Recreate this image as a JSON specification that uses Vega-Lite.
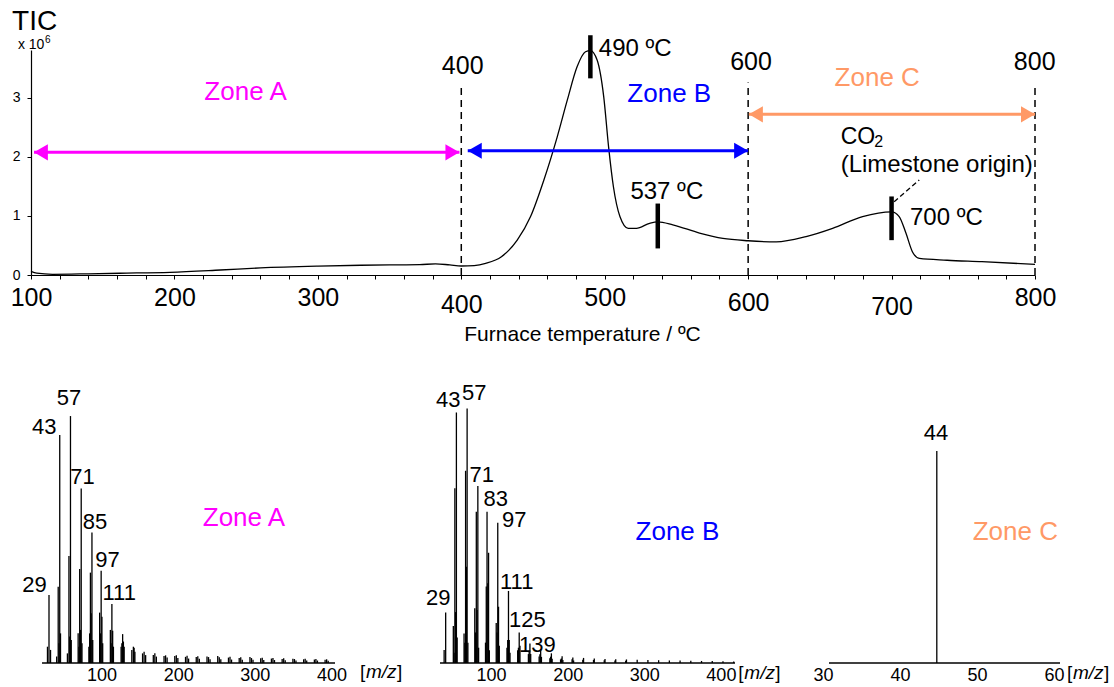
{
  "$schema": "https://vega.github.io/schema/vega-lite/v6.json",
  "padding": {"left": 10, "top": 8, "right": 0, "bottom": 0},
  "background": "white",
  "config": {"view": {"stroke": null}, "font": "Liberation Sans", "axis": {"grid": false, "domainColor": "black", "tickColor": "black", "labelColor": "black", "titleColor": "black"}},
  "datasets": {
    "tic": [
      {"T":100,"I":0.06},{"T":104,"I":0.03},{"T":115,"I":0.012},{"T":140,"I":0.02},{"T":162,"I":0.03},{"T":197,"I":0.046},{"T":232,"I":0.085},{"T":260,"I":0.12},{"T":300,"I":0.15},{"T":330,"I":0.165},{"T":350,"I":0.17},{"T":371,"I":0.175},{"T":382,"I":0.19},{"T":392,"I":0.17},{"T":400,"I":0.152},{"T":409,"I":0.16},{"T":417,"I":0.198},{"T":428,"I":0.31},{"T":439,"I":0.59},{"T":448.3,"I":0.99},{"T":457.6,"I":1.61},{"T":466.9,"I":2.34},{"T":473.9,"I":2.96},{"T":480.8,"I":3.53},{"T":486.6,"I":3.78},{"T":490,"I":3.8},{"T":494.7,"I":3.64},{"T":499.3,"I":3.02},{"T":502.7,"I":2.17},{"T":506.1,"I":1.49},{"T":510.6,"I":0.99},{"T":516.4,"I":0.79},{"T":522.1,"I":0.79},{"T":531.3,"I":0.875},{"T":537,"I":0.9},{"T":547.5,"I":0.85},{"T":566.1,"I":0.71},{"T":582.4,"I":0.62},{"T":600,"I":0.58},{"T":619.6,"I":0.56},{"T":640.4,"I":0.65},{"T":658.9,"I":0.79},{"T":679.8,"I":0.99},{"T":700,"I":1.07},{"T":705.3,"I":0.99},{"T":710,"I":0.71},{"T":714.6,"I":0.39},{"T":719.4,"I":0.28},{"T":738.7,"I":0.25},{"T":763,"I":0.225},{"T":800,"I":0.18}
    ],
    "vlines": [{"T":400,"I":0,"I2":3.2},{"T":600,"I":0,"I2":3.26},{"T":800,"I":0,"I2":3.24}],
    "arrows": [{"zone":"A","T":102.1,"T2":398.7,"I":2.077},{"zone":"B","T":404.5,"T2":600,"I":2.104},{"zone":"C","T":600.5,"T2":800,"I":2.72}],
    "heads": [
      {"zone":"A","dir":"left","T":106.9,"I":2.077},{"zone":"A","dir":"right","T":393.8,"I":2.077},
      {"zone":"B","dir":"left","T":409.4,"I":2.104},{"zone":"B","dir":"right","T":595.1,"I":2.104},
      {"zone":"C","dir":"left","T":605.4,"I":2.72},{"zone":"C","dir":"right","T":795.1,"I":2.72}
    ],
    "markers": [{"T":490,"I":3.33,"I2":4.06},{"T":537,"I":0.45,"I2":1.21},{"T":700,"I":0.59,"I2":1.33}],
    "leader": [{"T":701.8,"T2":719.3,"I":1.24,"I2":1.61}],
    "ann": [
      {"kind":"num","T":401,"I":3.54,"label":"400"},
      {"kind":"num","T":602,"I":3.61,"label":"600"},
      {"kind":"num","T":799.8,"I":3.61,"label":"800"},
      {"kind":"numc","T":543.3,"I":1.41,"label":"537 ºC"},
      {"kind":"left","T":495.9,"I":3.82,"label":"490 ºC"},
      {"kind":"left","T":712.8,"I":0.96,"label":"700 ºC"},
      {"kind":"left","T":664.5,"I":1.86,"label":"(Limestone origin)"},
      {"kind":"co","T":664.5,"I":2.34,"label":"CO"},
      {"kind":"sub","T":688,"I":2.26,"label":"2"},
      {"kind":"tic","T":86.8,"I":4.28,"label":"TIC"},
      {"kind":"x10","T":90.9,"I":3.89,"label":"x 10"},
      {"kind":"sup","T":109.8,"I":3.98,"label":"6"},
      {"kind":"zone","zone":"A","T":249.6,"I":3.1,"label":"Zone A"},
      {"kind":"zone","zone":"B","T":545,"I":3.07,"label":"Zone B"},
      {"kind":"zone","zone":"C","T":690,"I":3.33,"label":"Zone C"}
    ],
    "spec": [
      {"panel":"A","mz":27,"I":6.6},{"panel":"A","mz":29,"I":27.5},{"panel":"A","mz":31,"I":5.3},{"panel":"A","mz":39,"I":2.6},{"panel":"A","mz":41,"I":30.9},{"panel":"A","mz":42,"I":8},{"panel":"A","mz":43,"I":92.3},{"panel":"A","mz":44,"I":12},{"panel":"A","mz":53,"I":3.9},{"panel":"A","mz":55,"I":43.3},{"panel":"A","mz":56,"I":10.7},{"panel":"A","mz":57,"I":100},{"panel":"A","mz":58,"I":9.3},{"panel":"A","mz":67,"I":12},{"panel":"A","mz":68,"I":6.6},{"panel":"A","mz":69,"I":38.1},{"panel":"A","mz":70,"I":13.4},{"panel":"A","mz":71,"I":70.7},{"panel":"A","mz":72,"I":8},{"panel":"A","mz":81,"I":6.6},{"panel":"A","mz":82,"I":12},{"panel":"A","mz":83,"I":36.6},{"panel":"A","mz":84,"I":20.1},{"panel":"A","mz":85,"I":52.8},{"panel":"A","mz":86,"I":9.3},{"panel":"A","mz":95,"I":20.4},{"panel":"A","mz":96,"I":12},{"panel":"A","mz":97,"I":37.4},{"panel":"A","mz":98,"I":18.7},{"panel":"A","mz":99,"I":8},{"panel":"A","mz":109,"I":13.4},{"panel":"A","mz":110,"I":8},{"panel":"A","mz":111,"I":23.9},{"panel":"A","mz":112,"I":13.1},{"panel":"A","mz":113,"I":6.6},{"panel":"A","mz":123,"I":6.6},{"panel":"A","mz":124,"I":8},{"panel":"A","mz":125,"I":11.7},{"panel":"A","mz":126,"I":8.7},{"panel":"A","mz":127,"I":6.6},{"panel":"A","mz":137,"I":5.3},{"panel":"A","mz":139,"I":6.6},{"panel":"A","mz":140,"I":6.2},{"panel":"A","mz":141,"I":4.6},{"panel":"A","mz":151,"I":3.9},{"panel":"A","mz":153,"I":4.6},{"panel":"A","mz":155,"I":3.2},{"panel":"A","mz":165,"I":3.2},{"panel":"A","mz":167,"I":3.9},{"panel":"A","mz":169,"I":2.6},{"panel":"A","mz":179,"I":2.8},{"panel":"A","mz":181,"I":3.1},{"panel":"A","mz":183,"I":2.2},{"panel":"A","mz":193,"I":2.8},{"panel":"A","mz":195,"I":3.1},{"panel":"A","mz":197,"I":2.0},{"panel":"A","mz":207,"I":2.5},{"panel":"A","mz":209,"I":2.9},{"panel":"A","mz":211,"I":1.8},{"panel":"A","mz":221,"I":2.4},{"panel":"A","mz":223,"I":2.7},{"panel":"A","mz":225,"I":1.7},{"panel":"A","mz":235,"I":2.6},{"panel":"A","mz":237,"I":2.4},{"panel":"A","mz":239,"I":1.5},{"panel":"A","mz":249,"I":2.8},{"panel":"A","mz":251,"I":2.3},{"panel":"A","mz":253,"I":1.5},{"panel":"A","mz":263,"I":2.2},{"panel":"A","mz":265,"I":2.5},{"panel":"A","mz":267,"I":1.4},{"panel":"A","mz":277,"I":2.0},{"panel":"A","mz":279,"I":2.3},{"panel":"A","mz":281,"I":1.3},{"panel":"A","mz":291,"I":2.4},{"panel":"A","mz":293,"I":2.0},{"panel":"A","mz":295,"I":1.3},{"panel":"A","mz":305,"I":1.9},{"panel":"A","mz":307,"I":2.1},{"panel":"A","mz":309,"I":1.2},{"panel":"A","mz":319,"I":1.8},{"panel":"A","mz":321,"I":2.0},{"panel":"A","mz":323,"I":1.2},{"panel":"A","mz":333,"I":1.6},{"panel":"A","mz":335,"I":1.9},{"panel":"A","mz":337,"I":1.1},{"panel":"A","mz":347,"I":1.7},{"panel":"A","mz":349,"I":1.6},{"panel":"A","mz":351,"I":1.0},{"panel":"A","mz":361,"I":1.5},{"panel":"A","mz":363,"I":1.7},{"panel":"A","mz":365,"I":1.0},{"panel":"A","mz":375,"I":1.4},{"panel":"A","mz":377,"I":1.6},{"panel":"A","mz":379,"I":1.0},{"panel":"A","mz":389,"I":1.3},{"panel":"A","mz":391,"I":1.5},{"panel":"A","mz":393,"I":0.9},
      {"panel":"B","mz":27,"I":5.1},{"panel":"B","mz":29,"I":19.8},{"panel":"B","mz":39,"I":14.5},{"panel":"B","mz":40,"I":4},{"panel":"B","mz":41,"I":68.6},{"panel":"B","mz":42,"I":20},{"panel":"B","mz":43,"I":98.4},{"panel":"B","mz":44,"I":10},{"panel":"B","mz":53,"I":11.6},{"panel":"B","mz":54,"I":8},{"panel":"B","mz":55,"I":75.5},{"panel":"B","mz":56,"I":37.8},{"panel":"B","mz":57,"I":100},{"panel":"B","mz":58,"I":8},{"panel":"B","mz":67,"I":21.5},{"panel":"B","mz":68,"I":12},{"panel":"B","mz":69,"I":59.4},{"panel":"B","mz":70,"I":20.8},{"panel":"B","mz":71,"I":69.5},{"panel":"B","mz":72,"I":6},{"panel":"B","mz":81,"I":8},{"panel":"B","mz":82,"I":30},{"panel":"B","mz":83,"I":59.4},{"panel":"B","mz":84,"I":31.3},{"panel":"B","mz":85,"I":43.3},{"panel":"B","mz":86,"I":5},{"panel":"B","mz":95,"I":15.7},{"panel":"B","mz":96,"I":12},{"panel":"B","mz":97,"I":55.1},{"panel":"B","mz":98,"I":22.1},{"panel":"B","mz":99,"I":6.8},{"panel":"B","mz":109,"I":6},{"panel":"B","mz":110,"I":9},{"panel":"B","mz":111,"I":28.3},{"panel":"B","mz":112,"I":9},{"panel":"B","mz":113,"I":4},{"panel":"B","mz":123,"I":5},{"panel":"B","mz":124,"I":6},{"panel":"B","mz":125,"I":12},{"panel":"B","mz":126,"I":6.8},{"panel":"B","mz":137,"I":3.5},{"panel":"B","mz":138,"I":4.5},{"panel":"B","mz":139,"I":7.7},{"panel":"B","mz":140,"I":3.5},{"panel":"B","mz":151,"I":2.6},{"panel":"B","mz":152,"I":3.4},{"panel":"B","mz":153,"I":5.4},{"panel":"B","mz":154,"I":2.4},{"panel":"B","mz":165,"I":1.9},{"panel":"B","mz":166,"I":2.5},{"panel":"B","mz":167,"I":3.8},{"panel":"B","mz":168,"I":1.7},{"panel":"B","mz":179,"I":1.4},{"panel":"B","mz":180,"I":1.8},{"panel":"B","mz":181,"I":2.7},{"panel":"B","mz":182,"I":1.2},{"panel":"B","mz":194,"I":1.5},{"panel":"B","mz":195,"I":2.2},{"panel":"B","mz":196,"I":1.0},{"panel":"B","mz":208,"I":1.3},{"panel":"B","mz":209,"I":2.0},{"panel":"B","mz":222,"I":1.2},{"panel":"B","mz":223,"I":1.8},{"panel":"B","mz":236,"I":1.1},{"panel":"B","mz":237,"I":1.6},{"panel":"B","mz":250,"I":1.0},{"panel":"B","mz":251,"I":1.5},{"panel":"B","mz":264,"I":0.9},{"panel":"B","mz":265,"I":1.4},{"panel":"B","mz":279,"I":1.3},{"panel":"B","mz":293,"I":1.2},{"panel":"B","mz":307,"I":1.1},{"panel":"B","mz":321,"I":1.0},{"panel":"B","mz":335,"I":1.0},{"panel":"B","mz":349,"I":0.9},{"panel":"B","mz":363,"I":0.8},{"panel":"B","mz":377,"I":0.8},{"panel":"B","mz":391,"I":0.7},{"panel":"B","mz":405,"I":0.6},
      {"panel":"C","mz":44,"I":100}
    ],
    "base": [{"panel":"A","mz":19.9,"mz2":401.9,"I":0},{"panel":"B","mz":21.6,"mz2":406.7,"I":0},{"panel":"C","mz":30,"mz2":60,"I":0}],
    "blab": [
      {"panel":"A","kind":"peak","mz":10.1,"I":31.6,"label":"29"},
      {"panel":"A","kind":"peak","mz":22.7,"I":95.7,"label":"43"},
      {"panel":"A","kind":"peak","mz":55.1,"I":107.4,"label":"57"},
      {"panel":"A","kind":"peak","mz":72.7,"I":75.4,"label":"71"},
      {"panel":"A","kind":"peak","mz":89,"I":57.2,"label":"85"},
      {"panel":"A","kind":"peak","mz":105.3,"I":41.7,"label":"97"},
      {"panel":"A","kind":"peak","mz":120.5,"I":28.2,"label":"111"},
      {"panel":"A","kind":"zone","zone":"A","mz":283.2,"I":58.6,"label":"Zone A"},
      {"panel":"A","kind":"u1","mz":434.5,"I":-3.6,"label":"["},
      {"panel":"A","kind":"u2","mz":434.5,"I":-3.6,"label":"m/z"},
      {"panel":"A","kind":"u3","mz":434.5,"I":-3.6,"label":"]"},
      {"panel":"B","kind":"peak","mz":19.3,"I":25.4,"label":"29"},
      {"panel":"B","kind":"peak","mz":32.4,"I":103.3,"label":"43"},
      {"panel":"B","kind":"peak","mz":66.2,"I":105.9,"label":"57"},
      {"panel":"B","kind":"peak","mz":76,"I":73.8,"label":"71"},
      {"panel":"B","kind":"peak","mz":94.4,"I":64.4,"label":"83"},
      {"panel":"B","kind":"peak","mz":118.4,"I":56.1,"label":"97"},
      {"panel":"B","kind":"peak","mz":121.7,"I":31.9,"label":"111"},
      {"panel":"B","kind":"peak","mz":135.8,"I":16.9,"label":"125"},
      {"panel":"B","kind":"peak","mz":148.8,"I":7.2,"label":"139"},
      {"panel":"B","kind":"zone","zone":"B","mz":331.6,"I":51.6,"label":"Zone B"},
      {"panel":"B","kind":"u1","mz":411,"I":-4.0,"label":"["},
      {"panel":"B","kind":"u2","mz":411,"I":-4.0,"label":"m/z"},
      {"panel":"B","kind":"u3","mz":411,"I":-4.0,"label":"]"},
      {"panel":"C","kind":"peak","mz":43.9,"I":108.3,"label":"44"},
      {"panel":"C","kind":"zone","zone":"C","mz":54.2,"I":61.9,"label":"Zone C"},
      {"panel":"C","kind":"u1","mz":60.9,"I":-4.7,"label":"["},
      {"panel":"C","kind":"u2","mz":60.9,"I":-4.7,"label":"m/z"},
      {"panel":"C","kind":"u3","mz":60.9,"I":-4.7,"label":"]"}
    ]
  },
  "bounds": "flush",
  "spacing": 125,
  "vconcat": [
    {
      "width": 1004,
      "height": 225,
      "encoding": {
        "x": {"field": "T", "type": "quantitative", "scale": {"domain": [100, 800], "nice": false, "zero": false},
          "axis": {"title": "Furnace temperature / ºC", "titleFontSize": 21, "titleFontWeight": "normal", "titleX": 551, "titleY": 59, "titleBaseline": "middle", "titleAlign": "center", "titleAnchor": "start",
            "values": [100,120,140,160,180,200,220,240,260,280,300,320,340,360,380,400,420,440,460,480,500,520,540,560,580,600,620,640,660,680,700,720,740,760,780,800],
            "labelExpr": "datum.value % 100 === 0 ? datum.label : ''",
            "labelFontSize": 25, "labelFlush": false, "labelOverlap": false, "tickSize": 4, "domainWidth": 1.2,
            "labelPadding": {"condition": [{"test": "datum.value === 400", "value": 13}, {"test": "datum.value === 700", "value": 15}, {"test": "datum.value === 600", "value": 11}], "value": 6}}},
        "y": {"field": "I", "type": "quantitative", "scale": {"domain": [0, 3.81], "nice": false, "zero": false},
          "axis": {"title": null, "values": [0, 1, 2, 3], "labelFontSize": 14, "tickSize": 4, "labelPadding": 7, "domainWidth": 1.2}}
      },
      "layer": [
        {"data": {"name": "tic"}, "mark": {"type": "line", "color": "black", "strokeWidth": 1.3, "interpolate": "monotone"}, "encoding": {}},
        {"data": {"name": "vlines"}, "mark": {"type": "rule", "color": "black", "strokeWidth": 1.5, "strokeDash": [7, 5]}, "encoding": {"y2": {"field": "I2"}}},
        {"data": {"name": "arrows"}, "mark": {"type": "rule", "strokeWidth": 3},
          "encoding": {"x2": {"field": "T2"}, "color": {"field": "zone", "type": "nominal", "scale": {"domain": ["A", "B", "C"], "range": ["#FF00FF", "#0000FF", "#FF9966"]}, "legend": null}}},
        {"data": {"name": "heads"}, "mark": {"type": "point", "filled": true, "opacity": 1, "size": 260},
          "encoding": {
            "shape": {"field": "dir", "type": "nominal", "scale": {"domain": ["left", "right"], "range": ["triangle-left", "triangle-right"]}, "legend": null},
            "color": {"field": "zone", "type": "nominal", "scale": {"domain": ["A", "B", "C"], "range": ["#FF00FF", "#0000FF", "#FF9966"]}, "legend": null}}},
        {"data": {"name": "markers"}, "mark": {"type": "rule", "color": "black", "strokeWidth": 4.5}, "encoding": {"y2": {"field": "I2"}}},
        {"data": {"name": "leader"}, "mark": {"type": "rule", "color": "black", "strokeWidth": 1.3, "strokeDash": [5, 3]}, "encoding": {"x2": {"field": "T2"}, "y2": {"field": "I2"}}},
        {"data": {"name": "ann"}, "transform": [{"filter": "datum.kind === 'num'"}], "mark": {"type": "text", "fontSize": 25, "align": "center", "baseline": "middle", "color": "black"}, "encoding": {"text": {"field": "label"}}},
        {"data": {"name": "ann"}, "transform": [{"filter": "datum.kind === 'numc'"}], "mark": {"type": "text", "fontSize": 24, "align": "center", "baseline": "middle", "color": "black"}, "encoding": {"text": {"field": "label"}}},
        {"data": {"name": "ann"}, "transform": [{"filter": "datum.kind === 'left'"}], "mark": {"type": "text", "fontSize": 24, "align": "left", "baseline": "middle", "color": "black"}, "encoding": {"text": {"field": "label"}}},
        {"data": {"name": "ann"}, "transform": [{"filter": "datum.kind === 'co'"}], "mark": {"type": "text", "fontSize": 23, "align": "left", "baseline": "middle", "color": "black"}, "encoding": {"text": {"field": "label"}}},
        {"data": {"name": "ann"}, "transform": [{"filter": "datum.kind === 'sub'"}], "mark": {"type": "text", "fontSize": 16, "align": "left", "baseline": "middle", "color": "black"}, "encoding": {"text": {"field": "label"}}},
        {"data": {"name": "ann"}, "transform": [{"filter": "datum.kind === 'tic'"}], "mark": {"type": "text", "fontSize": 28, "align": "left", "baseline": "middle", "color": "black"}, "encoding": {"text": {"field": "label"}}},
        {"data": {"name": "ann"}, "transform": [{"filter": "datum.kind === 'x10'"}], "mark": {"type": "text", "fontSize": 14, "align": "left", "baseline": "middle", "color": "black"}, "encoding": {"text": {"field": "label"}}},
        {"data": {"name": "ann"}, "transform": [{"filter": "datum.kind === 'sup'"}], "mark": {"type": "text", "fontSize": 10, "align": "left", "baseline": "middle", "color": "black"}, "encoding": {"text": {"field": "label"}}},
        {"data": {"name": "ann"}, "transform": [{"filter": "datum.kind === 'zone'"}], "mark": {"type": "text", "fontSize": 26, "align": "center", "baseline": "middle"},
          "encoding": {"text": {"field": "label"}, "color": {"field": "zone", "type": "nominal", "scale": {"domain": ["A", "B", "C"], "range": ["#FF00FF", "#0000FF", "#FF9966"]}, "legend": null}}}
      ]
    },
    {
      "bounds": "flush",
      "spacing": 0,
      "hconcat": [
        {
          "width": 409,
          "height": 263,
          "encoding": {
            "x": {"field": "mz", "type": "quantitative", "scale": {"domain": [5.53, 538.8], "nice": false, "zero": false},
              "axis": {"title": null, "values": [100, 200, 300, 400], "domain": false, "ticks": false, "tickSize": 0, "labelFontSize": 18, "labelPadding": 3, "labelOffset": -2, "labelFlush": false}},
            "y": {"field": "I", "type": "quantitative", "scale": {"domain": [0, 106.5], "nice": false, "zero": false}, "axis": null}
          },
          "layer": [
            {"data": {"name": "spec"}, "transform": [{"filter": "datum.panel === 'A'"}], "mark": {"type": "rule", "color": "black", "strokeWidth": 1.3}, "encoding": {"y2": {"datum": 0}}},
            {"data": {"name": "base"}, "transform": [{"filter": "datum.panel === 'A'"}], "mark": {"type": "rule", "color": "black", "strokeWidth": 1.3}, "encoding": {"x2": {"field": "mz2"}}},
            {"data": {"name": "blab"}, "transform": [{"filter": "datum.panel === 'A' && datum.kind === 'peak'"}], "mark": {"type": "text", "fontSize": 22, "align": "center", "baseline": "middle", "color": "black"}, "encoding": {"text": {"field": "label"}}},
            {"data": {"name": "blab"}, "transform": [{"filter": "datum.panel === 'A' && datum.kind === 'zone'"}], "mark": {"type": "text", "fontSize": 26, "align": "center", "baseline": "middle"},
              "encoding": {"text": {"field": "label"}, "color": {"field": "zone", "type": "nominal", "scale": {"domain": ["A", "B", "C"], "range": ["#FF00FF", "#0000FF", "#FF9966"]}, "legend": null}}},
            {"data": {"name": "blab"}, "transform": [{"filter": "datum.panel === 'A' && datum.kind === 'u1'"}], "mark": {"type": "text", "fontSize": 19, "align": "left", "baseline": "middle", "color": "black"}, "encoding": {"text": {"field": "label"}}},
            {"data": {"name": "blab"}, "transform": [{"filter": "datum.panel === 'A' && datum.kind === 'u2'"}], "mark": {"type": "text", "fontSize": 19, "fontStyle": "italic", "align": "left", "baseline": "middle", "color": "black", "dx": 6}, "encoding": {"text": {"field": "label"}}},
            {"data": {"name": "blab"}, "transform": [{"filter": "datum.panel === 'A' && datum.kind === 'u3'"}], "mark": {"type": "text", "fontSize": 19, "align": "left", "baseline": "middle", "color": "black", "dx": 37}, "encoding": {"text": {"field": "label"}}}
          ]
        },
        {
          "width": 389,
          "height": 263,
          "encoding": {
            "x": {"field": "mz", "type": "quantitative", "scale": {"domain": [21.6, 529.4], "nice": false, "zero": false},
              "axis": {"title": null, "values": [100, 200, 300, 400], "domain": false, "ticks": false, "tickSize": 0, "labelFontSize": 18, "labelPadding": 3, "labelOffset": -9, "labelFlush": false}},
            "y": {"field": "I", "type": "quantitative", "scale": {"domain": [0, 103.3], "nice": false, "zero": false}, "axis": null}
          },
          "layer": [
            {"data": {"name": "spec"}, "transform": [{"filter": "datum.panel === 'B'"}], "mark": {"type": "rule", "color": "black", "strokeWidth": 1.3}, "encoding": {"y2": {"datum": 0}}},
            {"data": {"name": "base"}, "transform": [{"filter": "datum.panel === 'B'"}], "mark": {"type": "rule", "color": "black", "strokeWidth": 1.3}, "encoding": {"x2": {"field": "mz2"}}},
            {"data": {"name": "blab"}, "transform": [{"filter": "datum.panel === 'B' && datum.kind === 'peak'"}], "mark": {"type": "text", "fontSize": 22, "align": "center", "baseline": "middle", "color": "black"}, "encoding": {"text": {"field": "label"}}},
            {"data": {"name": "blab"}, "transform": [{"filter": "datum.panel === 'B' && datum.kind === 'zone'"}], "mark": {"type": "text", "fontSize": 26, "align": "center", "baseline": "middle"},
              "encoding": {"text": {"field": "label"}, "color": {"field": "zone", "type": "nominal", "scale": {"domain": ["A", "B", "C"], "range": ["#FF00FF", "#0000FF", "#FF9966"]}, "legend": null}}},
            {"data": {"name": "blab"}, "transform": [{"filter": "datum.panel === 'B' && datum.kind === 'u1'"}], "mark": {"type": "text", "fontSize": 19, "align": "left", "baseline": "middle", "color": "black"}, "encoding": {"text": {"field": "label"}}},
            {"data": {"name": "blab"}, "transform": [{"filter": "datum.panel === 'B' && datum.kind === 'u2'"}], "mark": {"type": "text", "fontSize": 19, "fontStyle": "italic", "align": "left", "baseline": "middle", "color": "black", "dx": 6}, "encoding": {"text": {"field": "label"}}},
            {"data": {"name": "blab"}, "transform": [{"filter": "datum.panel === 'B' && datum.kind === 'u3'"}], "mark": {"type": "text", "fontSize": 19, "align": "left", "baseline": "middle", "color": "black", "dx": 37}, "encoding": {"text": {"field": "label"}}}
          ]
        },
        {
          "width": 231,
          "height": 263,
          "encoding": {
            "x": {"field": "mz", "type": "quantitative", "scale": {"domain": [30, 60], "nice": false, "zero": false},
              "axis": {"title": null, "values": [30, 40, 50, 60], "domain": false, "ticks": false, "tickSize": 0, "labelFontSize": 18, "labelPadding": 3, "labelOffset": -6, "labelFlush": false}},
            "y": {"field": "I", "type": "quantitative", "scale": {"domain": [0, 124.1], "nice": false, "zero": false}, "axis": null}
          },
          "layer": [
            {"data": {"name": "spec"}, "transform": [{"filter": "datum.panel === 'C'"}], "mark": {"type": "rule", "color": "black", "strokeWidth": 1.3}, "encoding": {"y2": {"datum": 0}}},
            {"data": {"name": "base"}, "transform": [{"filter": "datum.panel === 'C'"}], "mark": {"type": "rule", "color": "black", "strokeWidth": 1.3}, "encoding": {"x2": {"field": "mz2"}}},
            {"data": {"name": "blab"}, "transform": [{"filter": "datum.panel === 'C' && datum.kind === 'peak'"}], "mark": {"type": "text", "fontSize": 22, "align": "center", "baseline": "middle", "color": "black"}, "encoding": {"text": {"field": "label"}}},
            {"data": {"name": "blab"}, "transform": [{"filter": "datum.panel === 'C' && datum.kind === 'zone'"}], "mark": {"type": "text", "fontSize": 26, "align": "center", "baseline": "middle"},
              "encoding": {"text": {"field": "label"}, "color": {"field": "zone", "type": "nominal", "scale": {"domain": ["A", "B", "C"], "range": ["#FF00FF", "#0000FF", "#FF9966"]}, "legend": null}}},
            {"data": {"name": "blab"}, "transform": [{"filter": "datum.panel === 'C' && datum.kind === 'u1'"}], "mark": {"type": "text", "fontSize": 19, "align": "left", "baseline": "middle", "color": "black"}, "encoding": {"text": {"field": "label"}}},
            {"data": {"name": "blab"}, "transform": [{"filter": "datum.panel === 'C' && datum.kind === 'u2'"}], "mark": {"type": "text", "fontSize": 19, "fontStyle": "italic", "align": "left", "baseline": "middle", "color": "black", "dx": 6}, "encoding": {"text": {"field": "label"}}},
            {"data": {"name": "blab"}, "transform": [{"filter": "datum.panel === 'C' && datum.kind === 'u3'"}], "mark": {"type": "text", "fontSize": 19, "align": "left", "baseline": "middle", "color": "black", "dx": 37}, "encoding": {"text": {"field": "label"}}}
          ]
        }
      ]
    }
  ]
}
